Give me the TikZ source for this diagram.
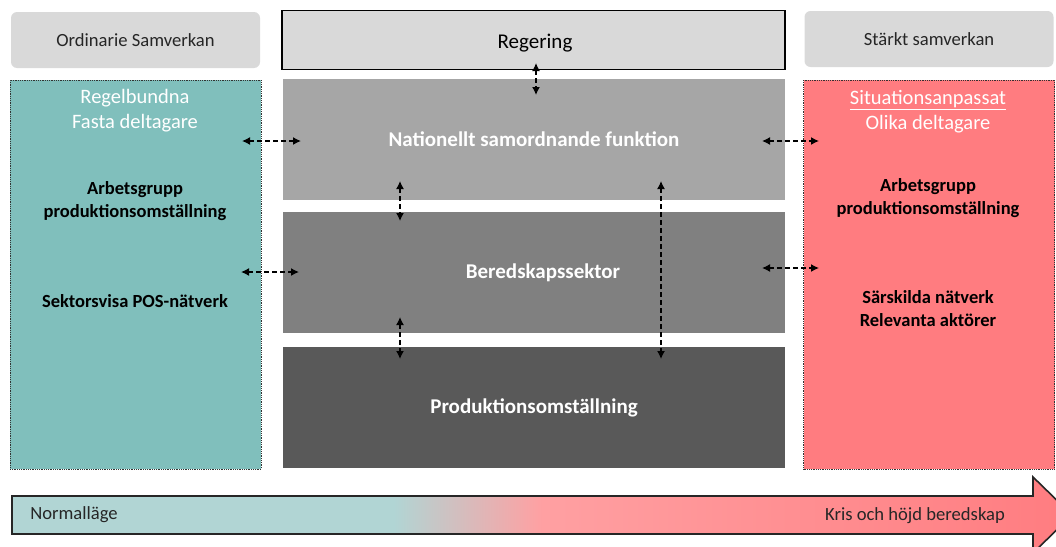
\documentclass[tikz,border=0pt]{standalone}
\usepackage{fontspec}
\setmainfont{Carlito}
\usetikzlibrary{arrows.meta}
\definecolor{topgray}{HTML}{D9D9D9}
\definecolor{tealpanel}{HTML}{80BFBC}
\definecolor{redpanel}{HTML}{FF7C80}
\definecolor{g1}{HTML}{A6A6A6}
\definecolor{g2}{HTML}{808080}
\definecolor{g3}{HTML}{595959}
\definecolor{tealL}{HTML}{B1D5D4}
\definecolor{pinkM}{HTML}{FFA0A2}
\definecolor{txtgray}{HTML}{262626}
\pgfdeclarehorizontalshading{arrowshade}{100bp}{color(0bp)=(tealL); color(25bp)=(tealL); color(43bp)=(tealL); color(50bp)=(pinkM); color(75bp)=(redpanel); color(100bp)=(redpanel)}
\tikzset{
  topbox/.style={draw=none, fill=topgray, rounded corners=6pt, minimum width=249pt, minimum height=56pt, inner sep=0pt, font=\fontsize{18.6}{22}\selectfont, text=txtgray},
  panel/.style={draw=black!80, densely dotted, line width=0.8pt, minimum width=251pt, minimum height=389pt, inner sep=0pt},
  band/.style={draw=none, minimum width=502pt, minimum height=121pt, inner sep=0pt, text=white, font=\fontsize{21}{24}\selectfont\bfseries},
  bigwhite/.style={text=white, font=\fontsize{20.5}{25}\selectfont, align=center, inner sep=0pt},
  boldblack/.style={text=black, font=\fontsize{18.5}{23}\selectfont\bfseries, align=center, inner sep=0pt},
  dar/.style={dash pattern=on 5pt off 3pt, line width=1.4pt, {Latex[length=8pt,width=8pt]}-{Latex[length=8pt,width=8pt]}}
}
\begin{document}
\begin{tikzpicture}[x=1pt,y=-1pt]
\useasboundingbox (0,0) rectangle (1056,546);
% top boxes
\node[topbox] (ord) at (135.5,40) {Ordinarie Samverkan};
\node[draw=black, line width=1.4pt, fill=topgray, minimum width=503pt, minimum height=59pt, inner sep=0pt, font=\fontsize{21}{24}\selectfont, text=black] (reg) at (533.5,40) {};
\node[font=\fontsize{21}{24}\selectfont, text=black, inner sep=0pt] (regt) at (535,43) {Regering};
\node[topbox] (sta) at (929,39) {Stärkt samverkan};
% panels
\node[panel, fill=tealpanel] (left) at (135.5,274.5) {};
\node[panel, fill=redpanel] (right) at (929,274.5) {};
% bands
\node[band, fill=g1] (nat) at (534,139.5) {Nationellt samordnande funktion};
\node[band, fill=g2] (ber) at (534,272.5) {\hspace*{18pt}Beredskapssektor};
\node[band, fill=g3] (prod) at (534,407.5) {Produktionsomställning};
% left texts
\node[bigwhite] (ltitle) at (135,111) {Regelbundna\\Fasta deltagare};
\node[boldblack] (larb) at (135,201) {Arbetsgrupp\\produktionsomställning};
\node[boldblack] (lsek) at (135,301) {Sektorsvisa POS-nätverk};
% right texts
\node[bigwhite] (rtitle) at (928,112) {\underline{Situationsanpassat}\\Olika deltagare};
\node[boldblack] (rarb) at (928,198) {Arbetsgrupp\\produktionsomställning};
\node[boldblack] (rsar) at (928,309) {Särskilda nätverk\\Relevanta aktörer};
% connector end points
\coordinate (a1) at (536,63);  \coordinate (a2) at (536,95);
\coordinate (l1a) at (242,141); \coordinate (l1b) at (301,141);
\coordinate (l2a) at (241,272); \coordinate (l2b) at (299,272);
\coordinate (r1a) at (762,141); \coordinate (r1b) at (819,141);
\coordinate (r2a) at (762,268); \coordinate (r2b) at (819,268);
\coordinate (v1a) at (400,181); \coordinate (v1b) at (400,221);
\coordinate (v2a) at (400,317); \coordinate (v2b) at (400,359);
\coordinate (v3a) at (661,181); \coordinate (v3b) at (661,359);
\draw[dar] (a1) -- (a2);
\draw[dar] (l1a) -- (l1b);
\draw[dar] (l2a) -- (l2b);
\draw[dar] (r1a) -- (r1b);
\draw[dar] (r2a) -- (r2b);
\draw[dar] (v1a) -- (v1b);
\draw[dar] (v2a) -- (v2b);
\draw[dar] (v3a) -- (v3b);
% bottom arrow
\shade[shading=arrowshade, draw=black!85, line width=1.6pt, line join=miter]
  (12,496) -- (1033,496) -- (1033,477) -- (1072,515) -- (1033,553) -- (1033,534) -- (12,534) -- cycle;
\node[font=\fontsize{18.6}{22}\selectfont, text=txtgray, inner sep=0pt] (norm) at (74,515) {Normalläge};
\node[font=\fontsize{18.6}{22}\selectfont, text=txtgray, inner sep=0pt] (kris) at (915,516) {Kris och höjd beredskap};
\end{tikzpicture}
\end{document}
